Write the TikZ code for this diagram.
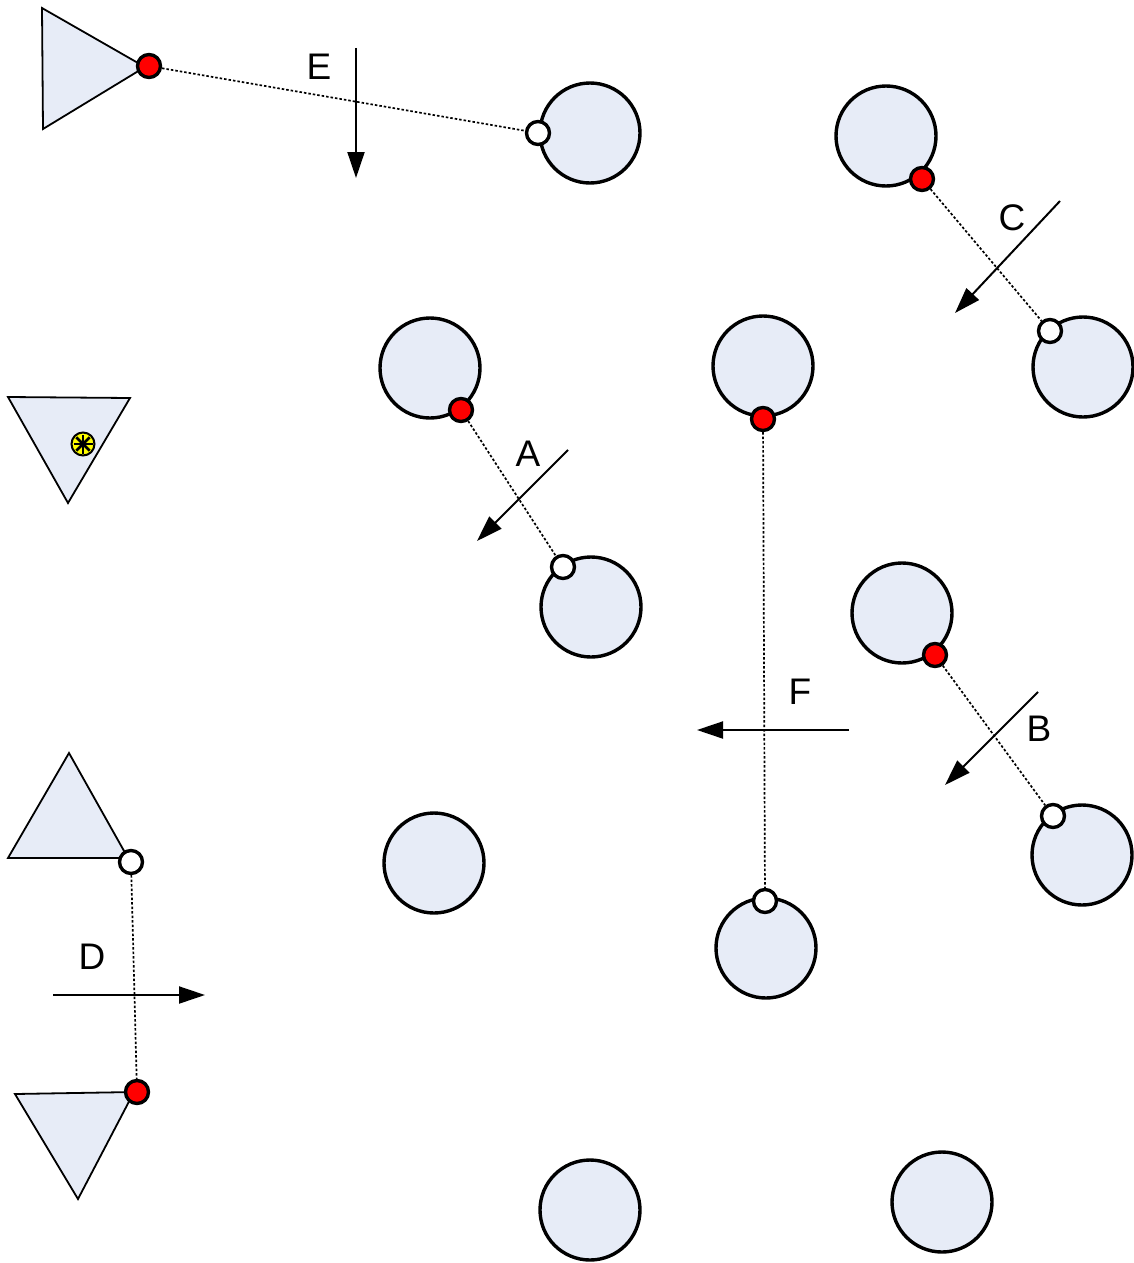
\documentclass[tikz,border=0pt]{standalone}
\usepackage{fontspec}
\setmainfont{Liberation Sans}
\usetikzlibrary{arrows.meta}
\definecolor{bodyblue}{RGB}{231,236,247}
\definecolor{tipred}{RGB}{255,0,0}
\definecolor{markyellow}{RGB}{255,255,0}
\tikzset{
  body/.style={circle, draw=black, line width=3.4pt, fill=bodyblue, minimum size=100pt, inner sep=0pt},
  wedge/.style={draw=black, line width=1.8pt, fill=bodyblue, line join=miter},
  headdot/.style={circle, draw=black, line width=3.4pt, fill=tipred, minimum size=23pt, inner sep=0pt},
  taildot/.style={circle, draw=black, line width=3.4pt, fill=white, minimum size=23pt, inner sep=0pt},
  bond/.style={line width=1.7pt, dash pattern=on 2.5pt off 2pt},
  motion/.style={line width=2pt, -{Triangle[length=26pt,width=17pt]}},
  tag/.style={font=\fontsize{37}{40}\selectfont, inner sep=0pt}
}
\begin{document}
\begin{tikzpicture}[x=1pt, y=-1pt]
  \useasboundingbox (0,0) rectangle (1133,1263);
  % 1. circles
  \node[body] (c1) at (590,133) {};
  \node[body] (c2) at (886,136) {};
  \node[body] (c3) at (1083,367) {};
  \node[body] (c4) at (430,368) {};
  \node[body] (c5) at (763,366) {};
  \node[body] (c6) at (591,607) {};
  \node[body] (c7) at (902,613) {};
  \node[body] (c8) at (1082,855) {};
  \node[body] (c9) at (434,863) {};
  \node[body] (c10) at (766,948) {};
  \node[body] (c11) at (590,1210) {};
  \node[body] (c12) at (942,1202) {};

  % 2. triangles
  \draw[wedge] (42,8) -- (43,129) -- (145,67) -- cycle;
  \draw[wedge] (8,397) -- (130,398) -- (68,503) -- cycle;
  \draw[wedge] (69,753) -- (8,858) -- (128,858) -- cycle;
  \draw[wedge] (15,1094) -- (134,1092) -- (78,1199) -- cycle;
  % marker in the lower-pointing triangle
  \node[circle, draw=black, line width=2pt, fill=markyellow, minimum size=23pt, inner sep=0pt] (mk) at (83,444) {};
  \foreach \a in {0,45,...,315}
    \draw[line width=2.6pt] (mk.center) -- ++(\a:9.5pt);

  % 3. end dots
  \node[headdot] (hE) at (149,66) {};
  \node[taildot] (tE) at (538,133) {};
  \node[headdot] (hC) at (922,179) {};
  \node[taildot] (tC) at (1050,331) {};
  \node[headdot] (hA) at (461,410) {};
  \node[taildot] (tA) at (563,567) {};
  \node[headdot] (hF) at (763,419) {};
  \node[taildot] (tF) at (765,901) {};
  \node[headdot] (hB) at (935,655) {};
  \node[taildot] (tB) at (1053,816) {};
  \node[taildot] (tD) at (131,862) {};
  \node[headdot] (hD) at (137,1092) {};

  % 4. dotted bonds
  \draw[bond] (hE) -- (tE);
  \draw[bond] (hC) -- (tC);
  \draw[bond] (hA) -- (tA);
  \draw[bond] (hF) -- (tF);
  \draw[bond] (hB) -- (tB);
  \draw[bond] (tD) -- (hD);

  % 5. motion arrows and labels
  \coordinate (eS) at (356,48);   \coordinate (eT) at (356,178);
  \coordinate (cS) at (1060,201); \coordinate (cT) at (955,313);
  \coordinate (aS) at (568,450);  \coordinate (aT) at (477,541);
  \coordinate (fS) at (849,730);  \coordinate (fT) at (697,730);
  \coordinate (bS) at (1038,692); \coordinate (bT) at (945,785);
  \coordinate (dS) at (53,995);   \coordinate (dT) at (205,995);
  \draw[motion] (eS) -- (eT);
  \draw[motion] (cS) -- (cT);
  \draw[motion] (aS) -- (aT);
  \draw[motion] (fS) -- (fT);
  \draw[motion] (bS) -- (bT);
  \draw[motion] (dS) -- (dT);
  \node[tag] (lE) at (319,67) {E};
  \node[tag] (lC) at (1012,218) {C};
  \node[tag] (lA) at (528,454) {A};
  \node[tag] (lF) at (800,692) {F};
  \node[tag] (lB) at (1039,729) {B};
  \node[tag] (lD) at (92,957) {D};
\end{tikzpicture}
\end{document}
